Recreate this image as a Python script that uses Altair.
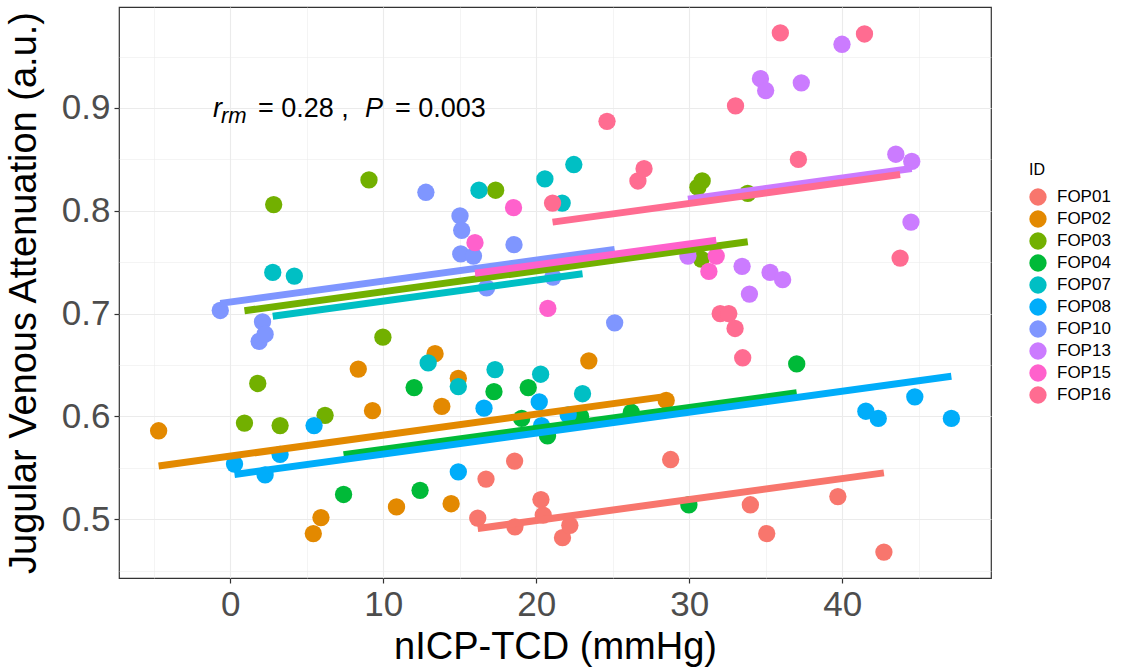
import altair as alt
import pandas as pd
import numpy as np

ids = ["FOP01", "FOP02", "FOP03", "FOP04", "FOP07", "FOP08", "FOP10", "FOP13", "FOP15", "FOP16"]
colors = ["#F8766D", "#E38900", "#72B000", "#00BA38", "#00BFC4", "#00ADFA", "#7F96FF", "#CB7BFF", "#FF61CC", "#FF6C91"]

fop01_x = [16.18, 16.72, 18.59, 18.61, 20.31, 20.46, 21.72, 22.2, 28.79, 34.0, 35.07, 39.72, 42.73]
fop01_y = [0.501, 0.539, 0.5565, 0.4925, 0.519, 0.504, 0.482, 0.494, 0.558, 0.514, 0.486, 0.522, 0.468]
fop02_x = [-4.68, 5.43, 5.93, 8.37, 9.3, 10.87, 13.39, 13.83, 14.44, 14.91, 23.44, 28.5]
fop02_y = [0.586, 0.486, 0.5015, 0.646, 0.6055, 0.512, 0.661, 0.6097, 0.515, 0.637, 0.654, 0.6155]
fop03_x = [0.93, 1.8, 2.84, 3.26, 6.2, 9.07, 9.98, 17.35, 30.57, 30.85, 30.79, 33.83]
fop03_y = [0.5935, 0.632, 0.806, 0.591, 0.601, 0.830, 0.677, 0.820, 0.823, 0.829, 0.753, 0.817]
fop04_x = [7.41, 12.02, 12.41, 17.24, 19.05, 19.48, 20.74, 22.9, 26.22, 29.98, 37.03]
fop04_y = [0.524, 0.628, 0.528, 0.624, 0.598, 0.628, 0.581, 0.600, 0.604, 0.514, 0.651]
fop07_x = [2.78, 4.19, 12.94, 14.91, 16.26, 17.31, 20.29, 20.57, 21.7, 22.46, 23.03]
fop07_y = [0.740, 0.7365, 0.652, 0.629, 0.820, 0.6455, 0.641, 0.831, 0.8075, 0.845, 0.622]
fop08_x = [0.28, 2.28, 3.26, 5.48, 14.91, 16.59, 20.2, 20.35, 22.09, 41.55, 42.36, 44.75, 47.14]
fop08_y = [0.5536, 0.543, 0.563, 0.591, 0.546, 0.608, 0.614, 0.591, 0.6015, 0.605, 0.598, 0.619, 0.598]
fop10_x = [-0.65, 1.89, 2.11, 2.28, 12.79, 15.02, 15.13, 15.07, 15.9, 16.76, 18.55, 21.1, 25.13]
fop10_y = [0.703, 0.673, 0.692, 0.680, 0.818, 0.795, 0.781, 0.758, 0.756, 0.725, 0.767, 0.7355, 0.691]
fop13_x = [29.92, 33.46, 33.94, 34.66, 35.0, 35.29, 36.11, 37.33, 39.99, 43.51, 44.5, 44.55]
fop13_y = [0.756, 0.746, 0.719, 0.9285, 0.917, 0.740, 0.733, 0.9245, 0.962, 0.855, 0.789, 0.848]
fop15_x = [16.0, 18.52, 20.76, 31.29, 31.77]
fop15_y = [0.769, 0.803, 0.705, 0.741, 0.756]
fop16_x = [21.07, 24.63, 26.65, 27.05, 32.03, 32.59, 33.0, 33.03, 33.5, 35.96, 37.14, 41.46, 43.79]
fop16_y = [0.8075, 0.887, 0.829, 0.841, 0.700, 0.700, 0.6855, 0.902, 0.657, 0.973, 0.85, 0.972, 0.754]

x_grid = [-5, 0, 5, 10, 15, 20, 25, 30, 35, 40, 45]
y_grid = [0.45, 0.5, 0.55, 0.6, 0.65, 0.7, 0.75, 0.8, 0.85, 0.9, 0.95]

series = {
    "FOP01": (fop01_x, fop01_y), "FOP02": (fop02_x, fop02_y), "FOP03": (fop03_x, fop03_y),
    "FOP04": (fop04_x, fop04_y), "FOP07": (fop07_x, fop07_y), "FOP08": (fop08_x, fop08_y),
    "FOP10": (fop10_x, fop10_y), "FOP13": (fop13_x, fop13_y), "FOP15": (fop15_x, fop15_y),
    "FOP16": (fop16_x, fop16_y),
}
rows = []
for k in ids:
    xs, ys = series[k]
    for a, b in zip(xs, ys):
        rows.append({"ID": k, "x": a, "y": b})
df = pd.DataFrame(rows)

# repeated-measures correlation: common slope, subject-specific intercepts
g = df.groupby("ID")
dx = df["x"] - g["x"].transform("mean")
dy = df["y"] - g["y"].transform("mean")
slope = float((dx * dy).sum() / (dx * dx).sum())
lrows = []
for k in ids:
    sub = df[df["ID"] == k]
    mx, my = sub["x"].mean(), sub["y"].mean()
    for xv in (sub["x"].min(), sub["x"].max()):
        lrows.append({"ID": k, "x": xv, "y": my + slope * (xv - mx), "o": ids.index(k)})
ldf = pd.DataFrame(lrows)

xr = df["x"].max() - df["x"].min()
yr = df["y"].max() - df["y"].min()
xscale = alt.Scale(domain=[df["x"].min() - 0.05 * xr, df["x"].max() + 0.05 * xr], nice=False, zero=False)
yscale = alt.Scale(domain=[df["y"].min() - 0.05 * yr, df["y"].max() + 0.05 * yr], nice=False, zero=False)
cscale = alt.Scale(domain=ids, range=colors)

FONT = "Liberation Sans"

x_major_test = "abs(datum.value / 10 - round(datum.value / 10)) < 0.001"
y_major_test = "abs(datum.value * 10 - round(datum.value * 10)) < 0.001"


def axis_props(test, vals, title, pad, fmt):
    return dict(
        values=vals,
        title=title,
        titlePadding=pad,
        format=fmt,
        labelExpr=f"({test}) ? datum.label : ''",
        gridWidth={"condition": {"test": test, "value": 1.1}, "value": 0.55},
        tickOpacity={"condition": {"test": test, "value": 1}, "value": 0},
    )


points = alt.Chart(df).mark_circle(size=300, opacity=1).encode(
    x=alt.X("x:Q", scale=xscale, axis=alt.Axis(**axis_props(x_major_test, x_grid, "nICP-TCD (mmHg)", 6, "d"))),
    y=alt.Y("y:Q", scale=yscale, axis=alt.Axis(**axis_props(y_major_test, y_grid, "Jugular Venous Attenuation (a.u.)", 18, ".1f"))),
    color=alt.Color("ID:N", scale=cscale, legend=alt.Legend(
        title="ID", orient="none", legendX=910, legendY=155, symbolType="circle", symbolSize=300,
        symbolStrokeWidth=0, labelFont=FONT, labelFontSize=17, labelColor="black", titleFont=FONT,
        titleFontSize=16, titleFontWeight="normal", titleColor="black", titlePadding=10,
        rowPadding=4, labelOffset=10, padding=0)),
)

lines = alt.Chart(ldf).mark_line(strokeWidth=7, strokeCap="butt").encode(
    x=alt.X("x:Q", scale=xscale),
    y=alt.Y("y:Q", scale=yscale),
    color=alt.Color("ID:N", scale=cscale, legend=None),
    detail="ID:N",
    order="o:Q",
)


def txt(s, px, py, size=27, italic=False):
    return alt.Chart(pd.DataFrame({"t": [s]})).mark_text(
        align="left", baseline="alphabetic", font=FONT, fontSize=size,
        fontStyle="italic" if italic else "normal", color="black").encode(
        x=alt.value(px), y=alt.value(py), text="t:N")


ann = [
    txt("r", 94, 110, italic=True),
    txt("rm", 102, 116, size=22, italic=True),
    txt("= 0.28 ,", 139, 110),
    txt("P", 246, 110, italic=True),
    txt("= 0.003", 276, 110),
]

chart = alt.layer(points, lines, *ann).properties(
    width=872, height=571,
    autosize=alt.AutoSizeParams(type="none"),
    padding={"left": 119, "top": 7, "right": 134, "bottom": 94},
).configure_view(stroke="#333333", strokeWidth=1.2).configure_axis(
    labelFont=FONT, labelFontSize=35, labelColor="#4D4D4D", tickColor="#333333",
    tickSize=5, tickWidth=1.2, domain=False, grid=True, gridColor="#EBEBEB",
    titleFont=FONT, titleFontSize=38, titleFontWeight="normal", titleColor="black", labelPadding=4,
)

chart.save("out.html", embed_options={"renderer": "svg", "actions": False})
